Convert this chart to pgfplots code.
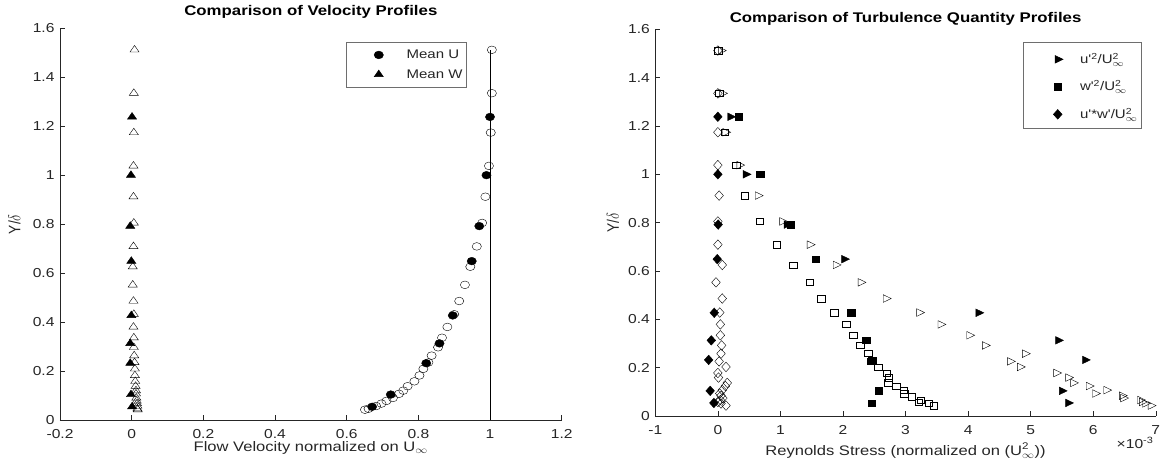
\documentclass[border=0pt]{standalone}
\usepackage{fontspec}
\setmainfont{Liberation Sans}
\usepackage{amsmath}
\usepackage{graphicx}
\usepackage{pgfplots}
\pgfplotsset{compat=1.18}

\definecolor{axgray}{RGB}{38,38,38}
\definecolor{leggray}{RGB}{110,110,110}
% the reference is stretched sideways, so text is widened to match
\newcommand{\hs}[1]{\scalebox{1.2}[1]{#1}}
\newcommand{\vs}[1]{\scalebox{1}[1.2]{#1}}

\pgfplotsset{
  matfig/.style={
    scale only axis, enlargelimits=false, clip=false,
    axis lines=left, axis line style={-, draw=axgray, line width=0.6bp},
    tick align=inside, major tick length=4.5bp,
    tick style={draw=axgray, line width=0.6bp},
    tick label style={font=\fontsize{13bp}{15bp}\selectfont, text=axgray},
    /pgf/number format/assume math mode=true,
    xticklabel={\hs{\pgfmathprintnumber{\tick}}},
    yticklabel={\hs{\pgfmathprintnumber{\tick}}},
    label style={font=\fontsize{13.8bp}{16bp}\selectfont, text=axgray},
    title style={font=\bfseries\fontsize{14bp}{16bp}\selectfont, text=black, at={(0.5,1)}, anchor=base},
    ymin=0, ymax=1.6, ytick={0,0.2,...,1.6},
    yticklabel style={xshift=-2bp},
    xticklabel style={yshift=-6bp},
    legend style={draw=leggray, line width=0.5bp, fill=white, inner xsep=4bp,
      font=\fontsize{12.5bp}{14bp}\selectfont, text=axgray,
      nodes={inner sep=0bp, anchor=base west}},
  },
  fm/.style={only marks, mark options={fill=black, draw=black}},
  om/.style={only marks, mark options={draw=black!80, fill=none, line width=0.6bp}},
}

\begin{document}
\begin{tikzpicture}
\useasboundingbox (0bp,0bp) rectangle (1161bp,476bp);

% left: velocity profiles
\begin{axis}[matfig, at={(60bp,56bp)}, anchor=south west,
  width=501.7bp, height=391.7bp,
  xmin=-0.2, xmax=1.2, xtick={-0.2,0,...,1.2},
  title={\hs{Comparison of Velocity Profiles}}, title style={yshift=7.3bp},
  xlabel={\hs{Flow Velocity normalized on U$_{\infty}$}},
  xlabel style={at={(0.5,0)}, anchor=base, yshift=-31.7bp},
  ylabel={\vs{Y/$\delta$}},
  ylabel style={at={(-0.0789,0.5)}, anchor=base},
  legend image code/.code={\path[draw=none] (0bp,0bp) -- (44bp,0bp); \draw[#1] plot coordinates {(28.7bp,4bp)};},
  legend style={at={(0.8106,0.9658)}, anchor=north east, inner ysep=7.5bp,
    row sep=8.6bp, column sep=12.5bp,
    nodes={text height=9.5bp, text depth=1.5bp}},
]
\addplot[fm, mark=*, mark size=3.85bp, mark options={xscale=1.2}] coordinates {
  (0.671,0.054) (0.723,0.104) (0.822,0.232) (0.859,0.313) (0.896,0.427)
  (0.949,0.649) (0.970,0.792) (0.990,1.000) (1.000,1.238)};
\addlegendentry{\hs{Mean U}}
\addplot[fm, mark=triangle*, mark size=4.4bp, mark options={xscale=1.2}] coordinates {
  (0.001,0.054) (-0.002,0.104) (-0.004,0.232) (-0.004,0.313) (-0.001,0.427)
  (-0.001,0.649) (-0.004,0.792) (-0.002,1.000) (0.001,1.238)};
\addlegendentry{\hs{Mean W}}
\addplot[om, mark=o, mark size=3.85bp, mark options={xscale=1.2}, forget plot] coordinates {
  (0.651,0.042) (0.661,0.046) (0.682,0.057) (0.697,0.067) (0.711,0.078)
  (0.729,0.090) (0.746,0.107) (0.758,0.120) (0.770,0.138) (0.789,0.158)
  (0.803,0.182) (0.814,0.209) (0.828,0.235) (0.837,0.263) (0.855,0.297)
  (0.866,0.336) (0.881,0.380) (0.900,0.432) (0.914,0.486) (0.930,0.552)
  (0.945,0.626) (0.963,0.709) (0.978,0.805) (0.987,0.912) (0.997,1.038)
  (1.002,1.174) (1.005,1.335) (1.005,1.512)};
\addplot[om, mark=triangle, mark size=4.4bp, mark options={xscale=1.2}, forget plot] coordinates {
  (0.017,0.042) (0.016,0.046) (0.016,0.057) (0.015,0.067) (0.014,0.078)
  (0.013,0.090) (0.012,0.107) (0.012,0.120) (0.011,0.138) (0.010,0.158)
  (0.009,0.182) (0.009,0.209) (0.008,0.235) (0.007,0.263) (0.006,0.297)
  (0.006,0.336) (0.005,0.380) (0.006,0.432) (0.005,0.486) (0.003,0.552)
  (0.003,0.626) (0.005,0.709) (0.006,0.805) (0.005,0.912) (0.005,1.038)
  (0.006,1.174) (0.006,1.335) (0.008,1.512)};
\addplot[black, line width=0.7bp, forget plot] coordinates {(1,0) (1,1.51)};
\end{axis}

% right: turbulence quantities
\begin{axis}[matfig, at={(655.3bp,60bp)}, anchor=south west,
  width=500.5bp, height=386.7bp,
  xmin=-1, xmax=7, xtick={-1,0,...,7},
  title={\hs{Comparison of Turbulence Quantity Profiles}}, title style={yshift=1bp},
  xlabel={\hs{Reynolds Stress (normalized on (U$^{\text{2}}_{\infty}$))}},
  xlabel style={at={(0.5,0)}, anchor=base, yshift=-39bp},
  ylabel={\vs{Y/$\delta$}},
  ylabel style={at={(-0.0727,0.5)}, anchor=base},
  legend image code/.code={\path[draw=none] (0bp,0bp) -- (44bp,0bp); \draw[#1] plot coordinates {(30bp,4bp)};},
  legend style={at={(0.9718,0.9664)}, anchor=north east, inner ysep=4bp,
    row sep=5.1bp, column sep=8.3bp,
    nodes={text height=16.8bp, text depth=5.6bp}},
]
\addplot[fm, mark=triangle*, mark size=4.4bp, mark options={xscale=1.2, rotate=-90}] coordinates {
  (5.60,0.054) (5.50,0.104) (5.87,0.232) (5.44,0.313) (4.167,0.427)
  (2.02,0.649) (1.10,0.792) (0.446,1.000) (0.20,1.238)};
\addlegendentry{\hs{u\textquotesingle$^{\text{2}}$/U$^{\text{2}}_{\infty}$}}
\addplot[fm, mark=square*, mark size=3.2bp, mark options={xscale=1.2}] coordinates {
  (2.46,0.054) (2.57,0.104) (2.47,0.232) (2.37,0.313) (2.135,0.427)
  (1.566,0.649) (1.163,0.792) (0.677,1.000) (0.333,1.238)};
\addlegendentry{\hs{w\textquotesingle$^{\text{2}}$/U$^{\text{2}}_{\infty}$}}
\addplot[fm, mark=diamond*, mark size=4.8bp, mark options={xscale=1.2}] coordinates {
  (-0.064,0.054) (-0.123,0.104) (-0.147,0.232) (-0.105,0.313) (-0.058,0.427)
  (-0.010,0.649) (0.005,0.792) (0.000,1.000) (0.000,1.238)};
\addlegendentry{\hs{u\textquotesingle*w\textquotesingle/U$^{\text{2}}_{\infty}$}}
\addplot[om, mark=triangle, mark size=4.4bp, mark options={xscale=1.2, rotate=-90}, forget plot] coordinates {
  (6.92,0.043) (6.83,0.052) (6.78,0.058) (6.75,0.066) (6.48,0.074)
  (6.46,0.084) (6.03,0.093) (6.21,0.107) (5.93,0.124) (5.68,0.137)
  (5.60,0.159) (5.41,0.178) (4.83,0.203) (4.67,0.226) (4.91,0.258)
  (4.27,0.292) (4.02,0.334) (3.56,0.379) (3.22,0.428) (2.686,0.486)
  (2.283,0.553) (1.886,0.625) (1.47,0.709) (1.03,0.805) (0.64,0.912)
  (0.345,1.038) (0.12,1.174) (0.07,1.335) (0.05,1.512)};
\addplot[om, mark=square, mark size=3.2bp, mark options={xscale=1.2}, forget plot] coordinates {
  (3.45,0.043) (3.37,0.052) (3.21,0.058) (3.24,0.066) (3.10,0.080)
  (2.98,0.093) (2.97,0.107) (2.85,0.124) (2.72,0.137) (2.73,0.159)
  (2.70,0.178) (2.56,0.203) (2.45,0.226) (2.40,0.261) (2.28,0.292)
  (2.16,0.334) (2.05,0.379) (1.86,0.428) (1.65,0.486) (1.47,0.553)
  (1.20,0.625) (0.94,0.709) (0.67,0.805) (0.43,0.912) (0.29,1.038)
  (0.11,1.174) (0.02,1.335) (0.00,1.512)};
\addplot[om, mark=diamond, mark size=4.8bp, mark options={xscale=1.2}, forget plot] coordinates {
  (0.13,0.043) (0.05,0.052) (0.00,0.058) (0.04,0.066) (0.08,0.074)
  (0.05,0.084) (0.03,0.093) (0.07,0.107) (0.12,0.124) (0.15,0.137)
  (0.01,0.159) (0.00,0.178) (0.13,0.203) (0.02,0.226) (0.05,0.258)
  (0.06,0.292) (0.04,0.334) (0.04,0.379) (0.03,0.428) (0.07,0.486)
  (-0.03,0.553) (0.07,0.625) (0.00,0.709) (0.00,0.805) (0.02,0.912)
  (0.00,1.038) (0.00,1.174) (0.00,1.335) (0.00,1.512)};
\node[anchor=base east, font=\fontsize{13bp}{15bp}\selectfont, text=axgray]
  at ([xshift=1.2bp,yshift=-32bp]rel axis cs:1,0) {\hs{×10$^{\text{-3}}$}};
\end{axis}
\end{tikzpicture}
\end{document}
